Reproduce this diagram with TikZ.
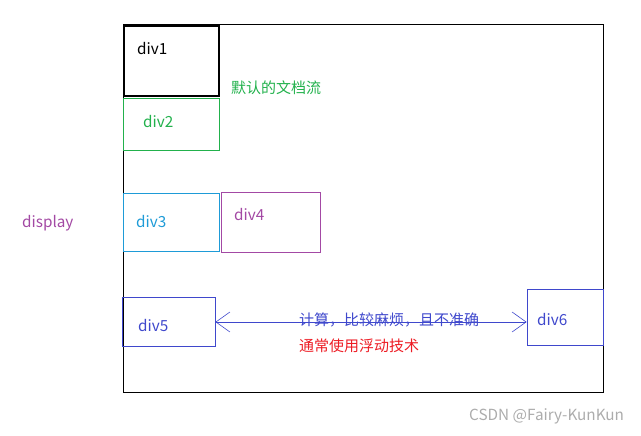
\documentclass[tikz,border=0pt]{standalone}
\usepackage{fontspec}
\setmainfont{Noto Sans CJK SC}
\usetikzlibrary{arrows.meta}
\definecolor{cgreen}{HTML}{22B14C}
\definecolor{cblue}{HTML}{1E9BD7}
\definecolor{cpurple}{HTML}{A349A4}
\definecolor{cdblue}{HTML}{3F48CC}
\definecolor{cred}{HTML}{ED1C24}
\begin{document}
\begin{tikzpicture}[x=1pt,y=-1pt,
  box/.style={draw,line width=0.8pt},
  lbl/.style={anchor=west,inner sep=0pt,font=\fontsize{15.3}{17}\selectfont},
  cjk/.style={anchor=west,inner sep=0pt,font=\fontsize{15}{17}\selectfont}]
\useasboundingbox (0,0) rectangle (641,436);
\draw[line width=0.9pt] (123,24) rectangle (603,392);
\node[box,line width=1.2pt,minimum width=95pt,minimum height=70pt,inner sep=0pt] (d1) at (171.5,61) {};
\node[box,cgreen,minimum width=96pt,minimum height=52pt,inner sep=0pt] (d2) at (171,124) {};
\node[box,cblue,minimum width=96pt,minimum height=58pt,inner sep=0pt] (d3) at (171,222) {};
\node[box,cpurple,minimum width=99pt,minimum height=60pt,inner sep=0pt] (d4) at (270.5,222) {};
\node[box,cdblue,minimum width=93pt,minimum height=49pt,inner sep=0pt] (d5) at (168.5,321.5) {};
\node[box,cdblue,minimum width=76pt,minimum height=56pt,inner sep=0pt] (d6) at (565,317) {};
\node[lbl] (t1) at (137,49) {div1};
\node[lbl,cgreen] (t2) at (143,122) {div2};
\node[lbl,cblue] (t3) at (136,222) {div3};
\node[lbl,cpurple] (t4) at (234,215) {div4};
\node[lbl,cdblue] (t5) at (138,326) {div5};
\node[lbl,cdblue] (t6) at (537,320) {div6};
\node[lbl,cpurple] (disp) at (22,223) {display};
\node[cjk,cgreen] (flow) at (231,88) {默认的文档流};
\node[cjk,cdblue] (calc) at (299,320) {计算，比较麻烦，且不准确};
\node[cjk,cred] (fl) at (299,346) {通常使用浮动技术};
\node[anchor=west,inner sep=0pt,font=\fontsize{15.3}{17}\selectfont,gray!65] (wm) at (469,416) {CSDN @Fairy-KunKun};
\draw[cdblue,line width=0.8pt,{Straight Barb[length=14pt,width=20pt,line width=0.6pt]}-{Straight Barb[length=14pt,width=20pt,line width=0.6pt]}] (d5.east |- 0,322) -- (d6.west |- 0,322);
\end{tikzpicture}
\end{document}
